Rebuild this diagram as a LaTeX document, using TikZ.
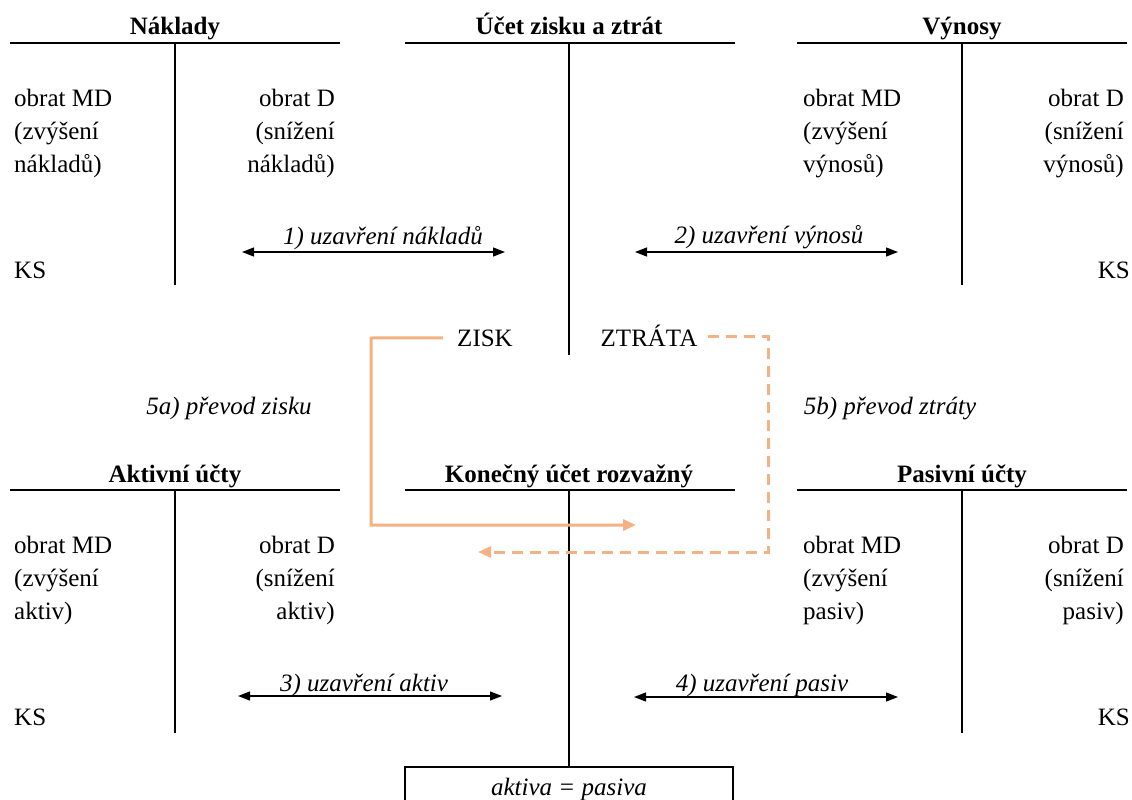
\documentclass[tikz,border=0pt]{standalone}
\usepackage{fontspec}
\newfontfamily\tms{Liberation Serif}
\usetikzlibrary{arrows.meta}
\definecolor{orng}{HTML}{F4B183}
\begin{document}
\begin{tikzpicture}[x=1pt,y=-1pt,
  every node/.style={inner sep=0pt, font=\tms\fontsize{25}{30}\selectfont},
  tline/.style={line width=2pt},
  ttl/.style={anchor=base, font=\tms\fontsize{25}{30}\selectfont\bfseries},
  txl/.style={anchor=base west},
  txr/.style={anchor=base east},
  lbl/.style={anchor=base, font=\tms\fontsize{25}{30}\selectfont\itshape},
  dbl/.style={line width=1.3pt, {Triangle[length=12pt,width=9pt]}-{Triangle[length=12pt,width=9pt]}},
  osolid/.style={draw=orng, line width=3pt, -{Triangle[length=13pt,width=11pt]}},
  odash/.style={draw=orng, line width=3pt, dash pattern=on 11pt off 7pt, -{Triangle[length=13pt,width=11pt]}}
]
\useasboundingbox (0,0) rectangle (1132,800);

% ---------- Top row ----------
% Naklady
\coordinate (nL) at (10,43); \coordinate (nR) at (340,43);
\coordinate (nT) at (175,43); \coordinate (nB) at (175,285);
\draw[tline] (nL) -- (nR); \draw[tline] (nT) -- (nB);
\node[ttl] (nTitle) at (175,35) {Náklady};
\node[txl] (n1) at (14,106) {obrat MD};
\node[txl] (n2) at (14,139) {(zvýšení};
\node[txl] (n3) at (14,172) {nákladů)};
\node[txr] (n4) at (335,106) {obrat D};
\node[txr] (n5) at (335,139) {(snížení};
\node[txr] (n6) at (335,172) {nákladů)};
\node[txl] (nKS) at (14,278) {KS};

% Ucet zisku a ztrat
\coordinate (uL) at (405,43); \coordinate (uR) at (735,43);
\coordinate (uT) at (569,43); \coordinate (uB) at (569,355);
\draw[tline] (uL) -- (uR); \draw[tline] (uT) -- (uB);
\node[ttl] (uTitle) at (569,35) {Účet zisku a ztrát};
\node[anchor=base] (zisk) at (485,346) {ZISK};
\node[anchor=base] (ztrata) at (649,346) {ZTRÁTA};

% Vynosy
\coordinate (vL) at (797,43); \coordinate (vR) at (1127,43);
\coordinate (vT) at (962,43); \coordinate (vB) at (962,285);
\draw[tline] (vL) -- (vR); \draw[tline] (vT) -- (vB);
\node[ttl] (vTitle) at (962,35) {Výnosy};
\node[txl] (v1) at (803,106) {obrat MD};
\node[txl] (v2) at (803,139) {(zvýšení};
\node[txl] (v3) at (803,172) {výnosů)};
\node[txr] (v4) at (1124,106) {obrat D};
\node[txr] (v5) at (1124,139) {(snížení};
\node[txr] (v6) at (1124,172) {výnosů)};
\node[txr] (vKS) at (1130,278) {KS};

% closing arrows top
\coordinate (a1l) at (242,252); \coordinate (a1r) at (505,252);
\draw[dbl] (a1l) -- (a1r);
\node[lbl] (l1) at (383,244) {1) uzavření nákladů};
\coordinate (a2l) at (635,252); \coordinate (a2r) at (898,252);
\draw[dbl] (a2l) -- (a2r);
\node[lbl] (l2) at (769,243) {2) uzavření výnosů};

% transfer labels
\node[lbl] (l5a) at (229,414) {5a) převod zisku};
\node[lbl] (l5b) at (890,414) {5b) převod ztráty};

% ---------- Bottom row ----------
% Aktivni ucty
\coordinate (aL) at (10,490); \coordinate (aR) at (340,490);
\coordinate (aT) at (175,490); \coordinate (aB) at (175,733);
\draw[tline] (aL) -- (aR); \draw[tline] (aT) -- (aB);
\node[ttl] (aTitle) at (175,482) {Aktivní účty};
\node[txl] (a1) at (14,553) {obrat MD};
\node[txl] (a2) at (14,586) {(zvýšení};
\node[txl] (a3) at (14,619) {aktiv)};
\node[txr] (a4) at (335,553) {obrat D};
\node[txr] (a5) at (335,586) {(snížení};
\node[txr] (a6) at (335,619) {aktiv)};
\node[txl] (aKS) at (14,725) {KS};

% Konecny ucet rozvazny
\coordinate (kL) at (405,490); \coordinate (kR) at (735,490);
\coordinate (kT) at (569,490);
\draw[tline] (kL) -- (kR);
\node[ttl] (kTitle) at (569,482) {Konečný účet rozvažný};
\node[minimum width=328pt, minimum height=33pt, anchor=north] (box) at (569,767) {};
\draw[tline] (box.south west) -- (box.north west) -- (box.north east) -- (box.south east);
\node[lbl] (eq) at (569,795) {aktiva = pasiva};
\draw[tline] (kT) -- (box.north);

% Pasivni ucty
\coordinate (pL) at (797,490); \coordinate (pR) at (1127,490);
\coordinate (pT) at (962,490); \coordinate (pB) at (962,733);
\draw[tline] (pL) -- (pR); \draw[tline] (pT) -- (pB);
\node[ttl] (pTitle) at (962,482) {Pasivní účty};
\node[txl] (p1) at (803,553) {obrat MD};
\node[txl] (p2) at (803,586) {(zvýšení};
\node[txl] (p3) at (803,619) {pasiv)};
\node[txr] (p4) at (1124,553) {obrat D};
\node[txr] (p5) at (1124,586) {(snížení};
\node[txr] (p6) at (1124,619) {pasiv)};
\node[txr] (pKS) at (1130,725) {KS};

% closing arrows bottom
\coordinate (a3l) at (238,696); \coordinate (a3r) at (502,696);
\draw[dbl] (a3l) -- (a3r);
\node[lbl] (l3) at (364,691) {3) uzavření aktiv};
\coordinate (a4l) at (634,697); \coordinate (a4r) at (898,697);
\draw[dbl] (a4l) -- (a4r);
\node[lbl] (l4) at (762,691) {4) uzavření pasiv};

% ---------- Orange transfers ----------
\coordinate (zc1) at (371,338);
\coordinate (zc2) at (371,525); \coordinate (ze) at (636,525);
\draw[osolid] ([xshift=-14pt]zisk.west) -- (zc1) -- (zc2) -- (ze);
\coordinate (tc1) at (768,336);
\coordinate (tc2) at (768,552); \coordinate (te) at (478,552);
\draw[odash] ([xshift=10pt]ztrata.east |- tc1) -- (tc1) -- (tc2) -- (te);
\end{tikzpicture}
\end{document}
